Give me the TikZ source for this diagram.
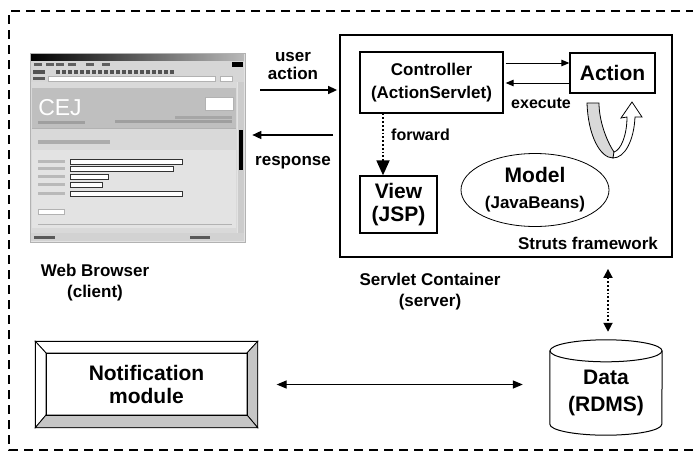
\documentclass[tikz,border=0pt]{standalone}
\usepackage{fontspec}
\setmainfont{Liberation Sans}
\usetikzlibrary{arrows.meta,positioning,shapes.geometric}

\newcommand\boxfont{\fontsize{21}{23}\selectfont\bfseries}
\newcommand\midfont{\fontsize{17}{23}\selectfont\bfseries}
\newcommand\lblfont{\fontsize{17}{21}\selectfont\bfseries}

\begin{document}
\begin{tikzpicture}[
  x=1pt, y=-1pt,
  box/.style={draw, line width=1.3pt, align=center, inner sep=0pt, font=\boxfont},
  lbl/.style={align=center, inner sep=0pt, font=\lblfont},
  arr/.style={-{Triangle[length=9pt,width=8pt]}, line width=1.5pt},
  thinarr/.style={-{Triangle[length=8pt,width=6.5pt]}, line width=1pt},
  dotarr/.style={dotted, line width=1.8pt},
  field/.style={fill=white, draw=gray!60, line width=0.4pt}
]
\useasboundingbox (0,0) rectangle (693,455);

% outer system border
\draw[line width=1.8pt, dash pattern=on 9pt off 6pt] (710,11) -- (9,11) -- (9,450) -- (710,450);

% web browser window
\node[draw=gray!60, fill=gray!22, line width=0.6pt, minimum width=215, minimum height=189, inner sep=0pt] (browser) at (137.5,147.5) {};
\shade[left color=black, right color=gray!55] (31,54) rectangle (244,61);
\fill[gray!32] (31,61) rectangle (244,82);
\foreach \x in {34,46,56,68,86,102} \fill[gray!75!black] (\x,63) rectangle ++(8,3);
\fill[black] (232,62) rectangle (243,67);
\foreach \x in {33,37,41,56,62,...,170} \fill[gray!65!black] (\x,70) rectangle ++(3.5,3.5);
\fill[gray!70!black] (33,77) rectangle (45,80);
\draw[field] (48,76) rectangle (215,81);
\draw[field] (220,76) rectangle (232,81);
\fill[gray!30] (31,82) rectangle (237,233);
\fill[gray!50] (32,88) rectangle (236,128);
\node[text=white, font=\fontsize{23}{23}\selectfont] (cej) at (60,108) {CEJ};
\draw[field] (205,97) rectangle (233,110);
\fill[gray!75] (38,121) rectangle (85,124);
\fill[gray!75] (115,120) rectangle (232,123);
\fill[gray!70] (175,116) rectangle (232,118.5);
\draw[gray!60, line width=0.6pt] (32,128) -- (236,128);
\fill[gray!65] (38,140) rectangle (110,144);
\fill[gray!22] (32,150) rectangle (236,228);
\foreach \y/\w in {160/182,167/173,175/108,183/102,192/182} {
  \fill[gray!55] (38,\y) rectangle (65,\y+3);
  \draw[field, draw=gray!40!black] (70,\y-1) rectangle (\w,\y+4);
}
\draw[field] (38,209) rectangle (64,214);
\draw[gray!60, line width=0.6pt] (38,224) -- (232,224);
\fill[gray!40] (238,82) rectangle (244,233);
\fill[black] (239,130) rectangle (243,170);
\fill[gray!35] (31,233) rectangle (244,241);
\fill[gray!70!black] (34,236) rectangle (55,239);
\fill[gray!70!black] (190,236) rectangle (210,239);

% servlet container and struts parts
\node[draw, line width=1.8pt, minimum width=332, minimum height=222, inner sep=0pt] (servlet) at (506,146) {};
\node[box, minimum width=143, minimum height=61, font=\midfont] (ctrl) at (431.5,82.5) {Controller\\(ActionServlet)};
\node[box, minimum width=85, minimum height=40] (action) at (612.5,73) {Action};
\node[box, minimum width=77, minimum height=57] (view) at (398.5,204.5) {View\\(JSP)};
\node[ellipse, draw, line width=0.8pt, minimum width=148, minimum height=73, inner sep=0pt, align=center, font=\boxfont] (model) at (535,190) {Model\\[3pt]{\midfont (JavaBeans)}};
\node[lbl] (struts) at (588,243) {Struts framework};

% repeated execute loop
\filldraw[fill=gray!30, line width=0.8pt] (587,103) .. controls (588,135) and (600,158) .. (613,158) -- (614,152) .. controls (606,140) and (599,120) .. (599,103) -- cycle;
\filldraw[fill=white, line width=0.8pt] (613,158) .. controls (625,158) and (634,140) .. (635,117) -- (642,117) -- (632,102) -- (621,118) -- (627,117) .. controls (627,135) and (621,150) .. (614,152) -- cycle;

% labels
\node[lbl, font=\fontsize{17}{18}\selectfont\bfseries] (ua) at (293,66) {user\\action};
\node[lbl] (resp) at (293,163) {response};
\node[lbl, font=\fontsize{16}{18}\selectfont\bfseries] (exec) at (541,103) {execute};
\node[lbl, anchor=west, font=\fontsize{16}{18}\selectfont\bfseries] (fwd) at (391,135) {forward};
\node[lbl] (wb) at (95,283) {Web Browser\\(client)};
\node[lbl] (sc) at (430,292) {Servlet Container\\(server)};

% notification module with bevelled frame
\node[draw, line width=1.3pt, minimum width=221, minimum height=85, inner sep=0pt] (notif) at (146.5,384.5) {};
\filldraw[fill=white, line width=0.8pt] (notif.north west) -- (notif.north east) -- (247,353) -- (46,353) -- cycle;
\filldraw[fill=white, line width=0.8pt] (notif.north west) -- (46,353) -- (46,415) -- (notif.south west) -- cycle;
\filldraw[fill=gray!45, line width=0.8pt] (notif.north east) -- (notif.south east) -- (247,415) -- (247,353) -- cycle;
\filldraw[fill=gray!45, line width=0.8pt] (notif.south west) -- (46,415) -- (247,415) -- (notif.south east) -- cycle;
\node[draw, line width=1pt, minimum width=201, minimum height=62, inner sep=0pt, align=center, font=\boxfont] (notiftext) at (146.5,384) {Notification\\module};

% database
\node[minimum width=112, minimum height=84, inner sep=0pt, align=center, font=\fontsize{21}{27}\selectfont\bfseries] (data) at (606,393) {Data\\(RDMS)};
\draw[line width=1pt] (data.north west) -- ([yshift=11pt]data.south west) arc[start angle=180, end angle=360, x radius=56pt, y radius=11pt] -- (data.north east);
\draw[line width=1pt] (data.north) ellipse[x radius=56pt, y radius=11pt];

% connectors
\draw[arr, shorten <=15pt, shorten >=2pt] (browser.east |- 0,90) -- (servlet.west |- 0,90);
\draw[arr, shorten <=6pt, shorten >=7pt] (servlet.west |- 0,135) -- (browser.east |- 0,135);
\draw[thinarr, shorten <=2pt] (ctrl.east |- 0,63) -- (action.west |- 0,63);
\draw[thinarr] (action.west |- 0,83) -- ([xshift=2pt]ctrl.east |- 0,83);
\draw[dotarr, -{Triangle[length=15pt,width=13pt]}] (ctrl.south -| 383,0) -- (view.north -| 383,0);
\draw[dotarr, {Triangle[length=9pt,width=9pt]}-{Triangle[length=9pt,width=9pt]}, shorten <=11pt, shorten >=19pt] (servlet.south -| 608,0) -- (data.north -| 608,0);
\draw[arr, {Triangle[length=10pt,width=8pt]}-{Triangle[length=10pt,width=8pt]}, line width=1.3pt, shorten <=19pt, shorten >=27pt] (notif.east) -- (data.west |- notif.east);
\end{tikzpicture}
\end{document}
